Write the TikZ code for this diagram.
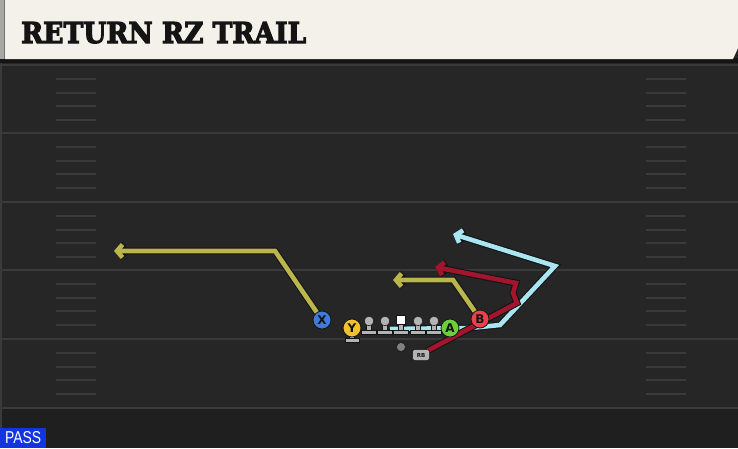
\documentclass[tikz,border=0pt]{standalone}
\usepackage{fontspec}
\usepackage{graphicx}
\usetikzlibrary{arrows.meta}
\newfontfamily\titlefont{DejaVu Serif}[FakeBold=4]
\newfontfamily\labfont{DejaVu Sans}
\newfontfamily\passfont{Liberation Sans}
\definecolor{field}{HTML}{262626}
\definecolor{fieldlow}{HTML}{1F1F1F}
\definecolor{yardln}{HTML}{3A3A3A}
\definecolor{cream}{HTML}{F4F1EA}
\definecolor{olive}{HTML}{BAB54C}
\definecolor{crimson}{HTML}{A3142E}
\definecolor{skyc}{HTML}{A9E6F2}
\definecolor{xblue}{HTML}{3F7BD9}
\definecolor{yyel}{HTML}{F2C12E}
\definecolor{agreen}{HTML}{6CCF3A}
\definecolor{bred}{HTML}{E8434C}
\definecolor{olgray}{HTML}{B4B4B4}
\definecolor{passblue}{HTML}{1434E0}
\definecolor{outl}{HTML}{141414}
\tikzset{
  yardline/.style={yardln, line width=2pt},
  hashmark/.style={yardln, line width=1.6pt},
  routeout/.style={outl, line width=6.8pt, line join=miter, -{Straight Barb[length=5.5pt,width=13pt]}},
  routein/.style={line width=4.6pt, line join=miter, -{Straight Barb[length=5.5pt,width=13pt]}},
  player/.style={circle, draw=outl, line width=0.8pt, minimum size=18pt, inner sep=0pt,
    font=\labfont\bfseries\fontsize{12}{12}\selectfont, text=outl},
  lineman/.pic={
    \fill[olgray, draw=outl, line width=0.5pt] (-2.5,0) rectangle (2.5,10);
    \fill[olgray, draw=outl, line width=0.5pt] (-7.5,9) rectangle (7.5,13.5);
    \fill[olgray, draw=outl, line width=0.5pt] (0,0) circle (4.8);
  },
  centerman/.pic={
    \fill[olgray, draw=outl, line width=0.5pt] (-2.5,0) rectangle (2.5,10);
    \fill[olgray, draw=outl, line width=0.5pt] (-7.5,9) rectangle (7.5,13.5);
    \fill[white, draw=outl, line width=0.5pt] (-4.5,-6) rectangle (4.5,3);
  }
}
\newcommand\myroute[2]{\draw[routeout] #2; \draw[routein,#1] #2;}
\begin{document}
\begin{tikzpicture}[x=1pt,y=-1pt]
\useasboundingbox (0,0) rectangle (738,448);
% backgrounds
\fill[field] (0,0) rectangle (738,408);
\fill[fieldlow] (0,408) rectangle (738,448);
\fill[outl] (0,58) rectangle (738,63);
\fill[yardln] (0,63) rectangle (1.5,448);
% title bar
\fill[cream] (5,0) -- (738,0) -- (738,48) -- (733,59) -- (5,59) -- cycle;
\fill[black!35] (0,0) rectangle (5,59);
\fill[black!55] (4,0) rectangle (5,59);
\node[anchor=base west, inner sep=0pt, text=outl] (title) at (21,43)
  {\resizebox{285pt}{21pt}{\titlefont\bfseries RETURN RZ TRAIL}};
% yard lines
\foreach \yy in {65,133,202,270,339,408} {
  \draw[yardline] (0,\yy) -- (738,\yy);
}
\foreach \yy in {65,133,202,270,339} {
  \foreach \dd in {14,28,41,55} {
    \draw[hashmark] (56,\yy+\dd) -- (96,\yy+\dd);
    \draw[hashmark] (646,\yy+\dd) -- (686,\yy+\dd);
  }
}
% players (positions)
\coordinate (Xp) at (322,320);
\coordinate (Bp) at (480,319);
\coordinate (RBp) at (421,355);
% route waypoints
\coordinate (x1) at (275,251);
\coordinate (x2) at (114,251);
\coordinate (b1) at (453,280);
\coordinate (b2) at (393,280);
\coordinate (r0) at (427,351);
\coordinate (r1) at (517,303);
\coordinate (r2) at (513,293);
\coordinate (r3) at (516,283);
\coordinate (r4) at (435,267);
\coordinate (c0) at (390,329);
\coordinate (c1) at (470,328);
\coordinate (c2) at (500,325);
\coordinate (c3) at (555,266);
\coordinate (c4) at (453,234);
% routes
\myroute{olive}{(Xp) -- (x1) -- (x2)}
\myroute{skyc}{(c0) -- (c1) -- (c2) -- (c3) -- (c4)}
\myroute{crimson}{(r0) -- (r1) -- (r2) -- (r3) -- (r4)}
\myroute{olive}{(Bp) -- (b1) -- (b2)}
% line
\pic (L1) at (369,321) {lineman};
\pic (L2) at (385,321) {lineman};
\pic (C) at (401,321) {centerman};
\pic (L4) at (418,321) {lineman};
\pic (L5) at (434,321) {lineman};
% QB dot
\node[circle, fill=black!50, draw=outl, line width=0.5pt, minimum size=9pt, inner sep=0pt] (QB) at (401,347) {};
% Y with stand
\fill[olgray, draw=outl, line width=0.5pt] (349.5,334) rectangle (354.5,339);
\fill[olgray, draw=outl, line width=0.5pt] (345,338) rectangle (359,342);
\node[player, fill=yyel] (Y) at (352,328) {Y};
\node[player, fill=xblue] (X) at (Xp) {X};
\node[player, fill=agreen] (A) at (450,328) {A};
\node[player, fill=bred] (B) at (Bp) {B};
\node[rounded corners=2.5pt, fill=olgray, draw=outl, line width=0.5pt, minimum width=17pt, minimum height=11pt, inner sep=0pt,
  font=\labfont\bfseries\fontsize{5.5}{5.5}\selectfont, text=outl] (RB) at (RBp) {RB};
% pass label
\node[fill=passblue, anchor=south west, inner sep=0pt, minimum width=46pt, minimum height=20pt, text=white] (pass) at (0,448)
  {\resizebox{36pt}{12pt}{\passfont PASS}};
\end{tikzpicture}
\end{document}
